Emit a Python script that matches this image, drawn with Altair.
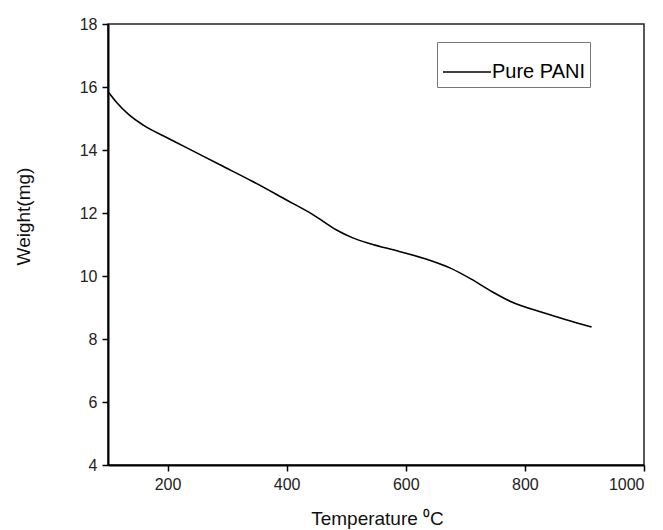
import altair as alt
import pandas as pd

temperature = [100, 115, 135, 160, 200, 226, 288, 343, 399, 444, 483, 511, 539, 589, 640, 675, 710, 745, 775, 834, 912]
weight = [15.86, 15.50, 15.12, 14.78, 14.38, 14.13, 13.53, 13.00, 12.42, 11.95, 11.47, 11.21, 11.03, 10.78, 10.50, 10.25, 9.90, 9.50, 9.20, 8.82, 8.38]
series = ["Pure PANI"] * len(temperature)

df = pd.DataFrame({"T": temperature, "W": weight, "s": series})

FONT = "Liberation Sans"

chart = alt.Chart(df).mark_line(strokeWidth=1.6, interpolate="monotone").encode(
    x=alt.X("T:Q",
            scale=alt.Scale(domain=[100, 1000], nice=False, zero=False),
            axis=alt.Axis(values=[200, 400, 600, 800, 1000], format="d", title="Temperature \u2070C",
                          titleX=269, titleY=53, titleBaseline="middle", titleAlign="center",
                          titleFontSize=19, titleFontWeight="normal", labelPadding=5)),
    y=alt.Y("W:Q",
            scale=alt.Scale(domain=[4, 18], nice=False, zero=False),
            axis=alt.Axis(values=[4, 6, 8, 10, 12, 14, 16, 18], format="d", title="Weight(mg)",
                          titleX=-85, titleY=192, titleBaseline="middle", titleAlign="center",
                          titleAngle=-90, titleFontSize=19, titleFontWeight="normal", labelPadding=5)),
    color=alt.Color("s:N", scale=alt.Scale(range=["#000000"]),
                    legend=alt.Legend(title=None, orient="none", legendX=329, legendY=18,
                                      symbolType="stroke", symbolSize=2304, symbolStrokeWidth=1.6,
                                      labelFontSize=20, labelFont=FONT, labelColor="#000",
                                      strokeColor="#777", padding=5, labelOffset=0)),
).properties(
    width=536, height=441,
    autosize=alt.AutoSizeParams(type="none"),
    padding={"left": 100, "top": 16, "right": 11, "bottom": 64},
).configure_view(
    stroke="#222", strokeWidth=1.5
).configure_axis(
    grid=False, domainColor="#000", domainWidth=2, tickColor="#000", tickWidth=1.5, tickSize=6,
    labelFont=FONT, titleFont=FONT, labelFontSize=16, labelColor="#222", titleColor="#111"
)

chart.save("out.html", embed_options={"renderer": "svg", "actions": False})
